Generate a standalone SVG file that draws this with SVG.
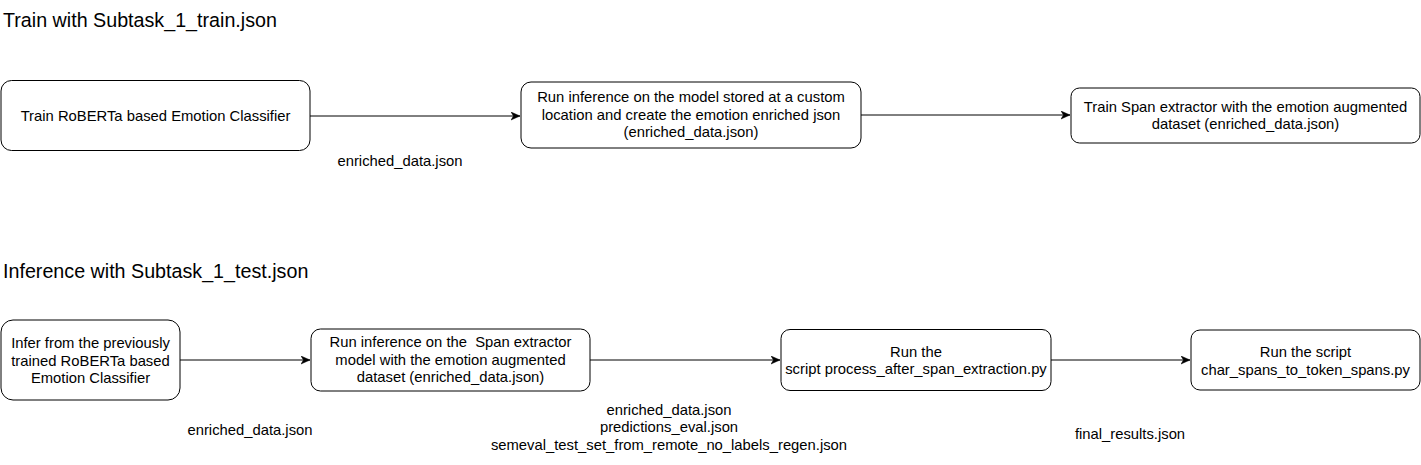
<svg xmlns="http://www.w3.org/2000/svg" width="1421" height="465" viewBox="0 0 1421 465">
<style>
.box{fill:#fff;stroke:#000;stroke-width:1}
.t{font-family:"Liberation Sans",Arial,sans-serif;font-size:14.8px;fill:#000;text-anchor:middle;white-space:pre}
.title{font-family:"Liberation Sans",Arial,sans-serif;font-size:19.7px;fill:#000}
.edge{fill:none;stroke:#000;stroke-width:1}
</style>
<defs>
<marker id="arr" markerUnits="userSpaceOnUse" markerWidth="12" markerHeight="10" refX="9" refY="4" orient="auto">
<path d="M0,0 L9,4 L0,8 L2.5,4 Z" fill="#000" stroke="#000" stroke-width="0.5"/>
</marker>
</defs>
<rect width="1421" height="465" fill="#fff"/>
<text class="title" x="3" y="27">Train with Subtask_1_train.json</text>
<text class="title" x="3" y="278">Inference with Subtask_1_test.json</text>

<g id="connectors">
<path class="edge" d="M310,116 L520,116" marker-end="url(#arr)"/>
<path class="edge" d="M861,115 L1070,115" marker-end="url(#arr)"/>
<path class="edge" d="M180,360 L310,360" marker-end="url(#arr)"/>
<path class="edge" d="M590,360 L780,360" marker-end="url(#arr)"/>
<path class="edge" d="M1051,360 L1190,360" marker-end="url(#arr)"/>
<text class="t" x="400" y="166">enriched_data.json</text>
<text class="t" x="250" y="435">enriched_data.json</text>
<text class="t" x="669" y="414.5">enriched_data.json</text>
<text class="t" x="669" y="432">predictions_eval.json</text>
<text class="t" x="669" y="449.5">semeval_test_set_from_remote_no_labels_regen.json</text>
<text class="t" x="1130" y="439">final_results.json</text>
</g>

<g id="n1">
<rect class="box" x="1" y="80.5" width="309" height="70" rx="10.5"/>
<text class="t" x="155.5" y="120.5">Train RoBERTa based Emotion Classifier</text>
</g>
<g id="n2">
<rect class="box" x="521" y="82" width="340" height="66" rx="10"/>
<text class="t" x="691" y="102">Run inference on the model stored at a custom</text>
<text class="t" x="691" y="119.5">location and create the emotion enriched json</text>
<text class="t" x="691" y="137">(enriched_data.json)</text>
</g>
<g id="n3">
<rect class="box" x="1071" y="88" width="349" height="55" rx="8.5"/>
<text class="t" x="1245.5" y="111.5">Train Span extractor with the emotion augmented</text>
<text class="t" x="1245.5" y="129">dataset (enriched_data.json)</text>
</g>
<g id="n4">
<rect class="box" x="1" y="320" width="179" height="80" rx="12"/>
<text class="t" x="90.5" y="348">Infer from the previously</text>
<text class="t" x="90.5" y="365.5">trained RoBERTa based</text>
<text class="t" x="90.5" y="383">Emotion Classifier</text>
</g>
<g id="n5">
<rect class="box" x="311" y="329" width="279" height="62" rx="9.5"/>
<text class="t" x="450.5" y="347" xml:space="preserve">Run inference on the  Span extractor</text>
<text class="t" x="450.5" y="364.5">model with the emotion augmented</text>
<text class="t" x="450.5" y="382">dataset (enriched_data.json)</text>
</g>
<g id="n6">
<rect class="box" x="781" y="329.5" width="270" height="61" rx="9"/>
<text class="t" x="916" y="356.5">Run the</text>
<text class="t" x="916" y="374">script process_after_span_extraction.py</text>
</g>
<g id="n7">
<rect class="box" x="1191" y="330" width="229" height="60" rx="9"/>
<text class="t" x="1305.5" y="357">Run the script</text>
<text class="t" x="1305.5" y="374.5">char_spans_to_token_spans.py</text>
</g>
</svg>
